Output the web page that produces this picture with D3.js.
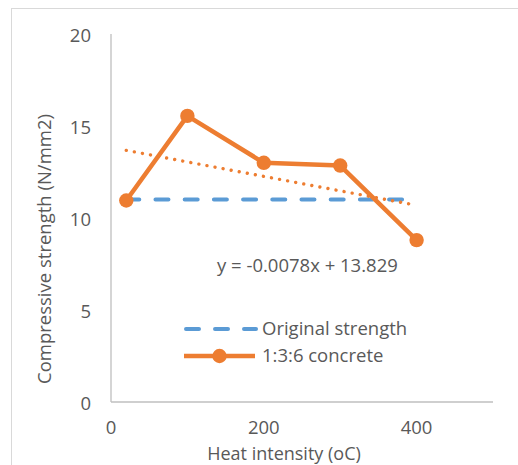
<!DOCTYPE html>
<html><head><meta charset="utf-8">
<script src="https://cdn.jsdelivr.net/npm/d3@7"></script>
<style>
html,body{margin:0;padding:0;background:#fff;}
svg{display:block;}
text{font-family:"Open Sans",sans-serif;fill:#595959;}
</style></head>
<body>
<script>
// Data
const heat = [20, 100, 200, 300, 400];
const concrete = [10.95, 15.55, 13.0, 12.85, 8.8];
const originalX = [20, 400];
const originalStrength = [11, 11];
const xTicks = [0, 200, 400];
const yTicks = [0, 5, 10, 15, 20];
const seriesNames = ["Original strength", "1:3:6 concrete"];
const trendLabel = "y = -0.0078x + 13.829";
const xTitle = "Heat intensity (oC)";
const yTitle = "Compressive strength (N/mm2)";

const W = 518, H = 465;
const blue = "#5B9BD5", orange = "#ED7D31", axisC = "#BFBFBF";
const fs = 18.5;

const svg = d3.select("body").append("svg").attr("width", W).attr("height", H);

// chart frame
svg.append("rect").attr("x", 11.5).attr("y", 8.5).attr("width", 540).attr("height", 500)
  .attr("fill", "#fff").attr("stroke", "#D9D9D9").attr("stroke-width", 1);

const x = d3.scaleLinear().domain([0, 500]).range([111, 493]);
const y = d3.scaleLinear().domain([0, 20]).range([402, 34]);

// axes lines
svg.append("line").attr("x1", x(0)).attr("x2", x(0)).attr("y1", y(0)).attr("y2", y(20))
  .attr("stroke", axisC).attr("stroke-width", 1.3);
svg.append("line").attr("x1", x(0)).attr("x2", x(500)).attr("y1", y(0)).attr("y2", y(0))
  .attr("stroke", axisC).attr("stroke-width", 1.3);

// tick labels
svg.selectAll(".yt").data(yTicks).join("text")
  .attr("x", 91).attr("y", d => y(d) + 1).attr("dy", "0.36em")
  .attr("text-anchor", "end").attr("font-size", fs).text(d => d);
svg.selectAll(".xt").data(xTicks).join("text")
  .attr("x", d => x(d)).attr("y", 434)
  .attr("text-anchor", "middle").attr("font-size", fs).text(d => d);

// titles
svg.append("text").attr("x", 284).attr("y", 459.5).attr("text-anchor", "middle")
  .attr("font-size", 18).text(xTitle);
svg.append("text").attr("transform", "translate(51,249) rotate(-90)")
  .attr("text-anchor", "middle").attr("font-size", fs).text(yTitle);

const line = d3.line().x(d => x(d[0])).y(d => y(d[1]));

// original strength dashed
svg.append("path").datum(originalX.map((d, i) => [d, originalStrength[i]]))
  .attr("d", line).attr("fill", "none").attr("stroke", blue).attr("stroke-width", 4)
  .attr("stroke-dasharray", "13,16.2").attr("stroke-linecap", "round");

// trendline (least squares from data)
const mx = d3.mean(heat), my = d3.mean(concrete);
const slope = d3.sum(heat, (d, i) => (d - mx) * (concrete[i] - my)) / d3.sum(heat, d => (d - mx) ** 2);
const icpt = my - slope * mx;
const tr = [heat[0], heat[heat.length - 1]].map(v => [v, icpt + slope * v]);
svg.append("path").datum(tr).attr("d", line).attr("fill", "none")
  .attr("stroke", orange).attr("stroke-width", 3.4)
  .attr("stroke-dasharray", "0.01,8.2").attr("stroke-linecap", "round");

// concrete series
const pts = heat.map((d, i) => [d, concrete[i]]);
svg.append("path").datum(pts).attr("d", line).attr("fill", "none")
  .attr("stroke", orange).attr("stroke-width", 4.5).attr("stroke-linejoin", "round");
svg.selectAll(".pt").data(pts).join("circle")
  .attr("cx", d => x(d[0])).attr("cy", d => y(d[1])).attr("r", 7.2).attr("fill", orange);

// trend label
svg.append("text").attr("x", 217).attr("y", 272).attr("font-size", fs).text(trendLabel);

// legend
const lg = svg.append("g");
const lgY = [329, 356];
lg.append("line").attr("x1", 186).attr("x2", 256).attr("y1", lgY[0]).attr("y2", lgY[0])
  .attr("stroke", blue).attr("stroke-width", 4).attr("stroke-dasharray", "13,16").attr("stroke-linecap", "round");
lg.append("line").attr("x1", 184).attr("x2", 255).attr("y1", lgY[1]).attr("y2", lgY[1])
  .attr("stroke", orange).attr("stroke-width", 4.5);
lg.append("circle").attr("cx", 219.5).attr("cy", lgY[1]).attr("r", 7.2).attr("fill", orange);
lg.selectAll(".lt").data(seriesNames).join("text")
  .attr("x", 262).attr("y", (d, i) => lgY[i] + 6).attr("font-size", fs).text(d => d);
</script>
</body></html>
